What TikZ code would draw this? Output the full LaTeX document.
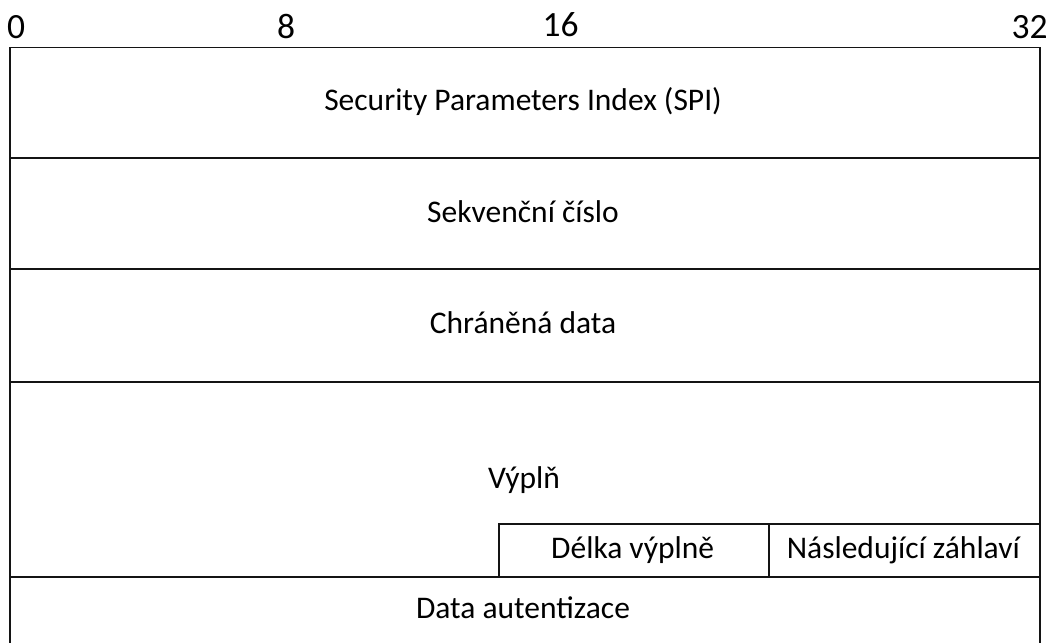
\documentclass[tikz,border=0pt]{standalone}
\usepackage{fontspec}
\setmainfont{Carlito}
\begin{document}
\begin{tikzpicture}[x=1pt,y=-1pt,
  cell/.style={draw=black!92, line width=1.8pt, rectangle, inner sep=0pt,
    anchor=north west},
  field/.style={font=\fontsize{31.5}{36}\selectfont, anchor=base, inner sep=0pt},
  bitmark/.style={font=\fontsize{35.5}{40}\selectfont, anchor=base, inner sep=0pt}]
\useasboundingbox (0,0) rectangle (1051,642);

% bit offsets along the top
\node[bitmark] (b0)  at (16,38.5)   {0};
\node[bitmark] (b8)  at (286,38.5)  {8};
\node[bitmark] (b16) at (560.5,36.5) {16};
\node[bitmark] (b32) at (1029.5,38.5) {32};

% header rows
\node[cell, minimum width=1030pt, minimum height=110pt]   (spi)  at (9,46.7)  {};
\node[cell, minimum width=1030pt, minimum height=111.6pt] (seq)  at (9,156.7) {};
\node[cell, minimum width=1030pt, minimum height=113pt]   (data) at (9,268.3) {};
\node[cell, minimum width=1030pt, minimum height=194.7pt] (pad)  at (9,381.3) {};
\node[cell, minimum width=1030pt, minimum height=120pt]   (auth) at (9,576)   {};

% trailer fields inside the padding row
\node[cell, minimum width=270pt, minimum height=52.7pt] (padlen)  at (497.7,523.3) {};
\node[cell, minimum width=271.3pt, minimum height=52.7pt] (nexthdr) at (767.7,523.3) {};

% field names
\node[field] (tspi)  at (523,110)   {Security Parameters Index (SPI)};
\node[field] (tseq)  at (523,222.5) {Sekvenční číslo};
\node[field] (tdata) at (523,333)   {Chráněná data};
\node[field] (tpad)  at (524,488)   {Výplň};
\node[field] (tlen)  at (632.7,558) {Délka výplně};
\node[field] (tnext) at (903.3,558) {Následující záhlaví};
\node[field] (tauth) at (523,618)   {Data autentizace};
\end{tikzpicture}
\end{document}
